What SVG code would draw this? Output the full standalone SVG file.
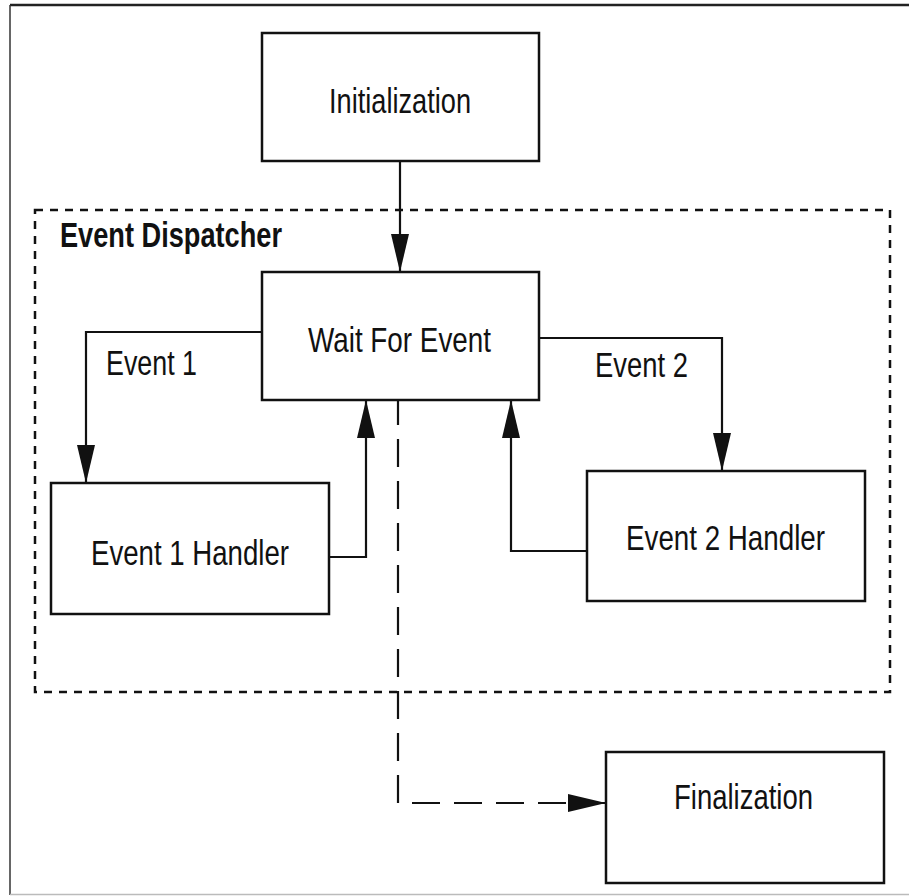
<svg xmlns="http://www.w3.org/2000/svg" width="909" height="896" viewBox="0 0 909 896">
<defs>
<style>
.box{fill:#fff;stroke:#111;stroke-width:2.5}
.lbl{font-family:"Liberation Sans",Arial,sans-serif;font-size:35px;fill:#111}
.con{fill:none;stroke:#111;stroke-width:2.2}
.dash{fill:none;stroke:#111;stroke-width:2.2;stroke-dasharray:28 14}
.group{fill:none;stroke:#111;stroke-width:2.5;stroke-dasharray:8 7}
</style>
<marker id="arr" markerUnits="userSpaceOnUse" markerWidth="40" markerHeight="20" refX="38" refY="9" orient="auto">
<path d="M0,0 L38,9 L0,18 Z" fill="#111"/>
</marker>
</defs>
<rect x="0" y="0" width="909" height="896" fill="#fff"/>
<g id="frame">
<line x1="10" y1="5" x2="909" y2="5" stroke="#222" stroke-width="2.5"/>
<line x1="10" y1="5" x2="10" y2="895" stroke="#333" stroke-width="1.5"/>
<line x1="10" y1="894.5" x2="909" y2="894.5" stroke="#bbb" stroke-width="1.5"/>
</g>
<g id="event-dispatcher">
<rect class="group" x="35" y="210" width="855" height="482"/>
<text class="lbl" x="60" y="247" font-weight="bold" font-size="30" textLength="222" lengthAdjust="spacingAndGlyphs">Event Dispatcher</text>
</g>
<g id="connectors">
<path class="con" d="M400,161 V272" marker-end="url(#arr)"/>
<path class="con" d="M262,332 H86 V483" marker-end="url(#arr)"/>
<path class="con" d="M329,557 H366 V400" marker-end="url(#arr)"/>
<path class="con" d="M539,338 H722 V471" marker-end="url(#arr)"/>
<path class="con" d="M587,551 H511 V400" marker-end="url(#arr)"/>
<path class="dash" d="M398,397 V803 H606" marker-end="url(#arr)"/>
<text class="lbl" x="106" y="375" textLength="91" lengthAdjust="spacingAndGlyphs">Event 1</text>
<text class="lbl" x="595" y="377" textLength="93" lengthAdjust="spacingAndGlyphs">Event 2</text>
</g>
<g id="initialization">
<rect class="box" x="262" y="33" width="277" height="128"/>
<text class="lbl" x="329" y="113" textLength="142" lengthAdjust="spacingAndGlyphs">Initialization</text>
</g>
<g id="wait-for-event">
<rect class="box" x="262" y="272" width="277" height="128"/>
<text class="lbl" x="308" y="352" textLength="183" lengthAdjust="spacingAndGlyphs">Wait For Event</text>
</g>
<g id="event1-handler">
<rect class="box" x="51" y="483" width="278" height="131"/>
<text class="lbl" x="91" y="565" textLength="198" lengthAdjust="spacingAndGlyphs">Event 1 Handler</text>
</g>
<g id="event2-handler">
<rect class="box" x="587" y="471" width="278" height="130"/>
<text class="lbl" x="626" y="550" textLength="199" lengthAdjust="spacingAndGlyphs">Event 2 Handler</text>
</g>
<g id="finalization">
<rect class="box" x="606" y="752" width="278" height="131"/>
<text class="lbl" x="674" y="809" textLength="139" lengthAdjust="spacingAndGlyphs">Finalization</text>
</g>
</svg>
